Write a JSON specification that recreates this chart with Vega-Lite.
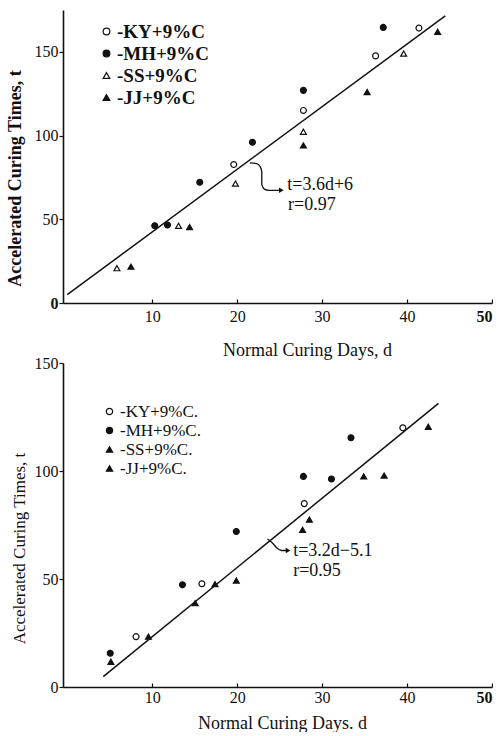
{
  "$schema": "https://vega.github.io/schema/vega-lite/v6.json",
  "background": "white",
  "autosize": {"type": "pad"},
  "padding": {"left": 6, "top": 10, "right": 0, "bottom": 0},
  "spacing": 60,
  "bounds": "flush",
  "config": {
    "font": "Liberation Serif",
    "view": {"stroke": null},
    "axis": {
      "grid": false,
      "domainColor": "#111",
      "domainWidth": 1.6,
      "tickColor": "#111",
      "tickWidth": 1.2,
      "labelColor": "#111",
      "titleColor": "#111",
      "labelFont": "Liberation Serif",
      "titleFont": "Liberation Serif",
      "labelFontSize": 16,
      "titleFontSize": 18,
      "titleFontWeight": "normal"
    },
    "legend": {
      "labelFont": "Liberation Serif",
      "labelColor": "#111",
      "symbolStrokeWidth": 1.2,
      "title": null
    },
    "text": {"font": "Liberation Serif", "color": "#111"}
  },
  "datasets": {
    "top_pts": [
      {"d": 19.6, "t": 82.7, "s": "KY"},
      {"d": 27.8, "t": 115.0, "s": "KY"},
      {"d": 36.3, "t": 147.6, "s": "KY"},
      {"d": 41.4, "t": 164.2, "s": "KY"},
      {"d": 10.3, "t": 46.1, "s": "MH"},
      {"d": 11.8, "t": 46.6, "s": "MH"},
      {"d": 15.6, "t": 72.1, "s": "MH"},
      {"d": 21.8, "t": 96.0, "s": "MH"},
      {"d": 27.8, "t": 127.0, "s": "MH"},
      {"d": 37.2, "t": 164.6, "s": "MH"},
      {"d": 5.85, "t": 20.8, "s": "SS"},
      {"d": 13.1, "t": 46.1, "s": "SS"},
      {"d": 19.8, "t": 71.3, "s": "SS"},
      {"d": 27.8, "t": 102.3, "s": "SS"},
      {"d": 39.6, "t": 149.0, "s": "SS"},
      {"d": 7.5, "t": 21.7, "s": "JJ"},
      {"d": 14.4, "t": 45.4, "s": "JJ"},
      {"d": 27.8, "t": 94.1, "s": "JJ"},
      {"d": 35.3, "t": 126.0, "s": "JJ"},
      {"d": 43.6, "t": 162.0, "s": "JJ"}
    ],
    "top_line": [
      {"d": 0, "t": 5},
      {"d": 44.5, "t": 171.5}
    ],
    "top_arrow": [
      {"i": 1, "d": 21.5, "t": 83.7},
      {"i": 2, "d": 22.3, "t": 83.3},
      {"i": 3, "d": 22.7, "t": 81.5},
      {"i": 4, "d": 22.9, "t": 78.5},
      {"i": 5, "d": 22.9, "t": 70.7},
      {"i": 6, "d": 23.2, "t": 68.0},
      {"i": 7, "d": 23.7, "t": 67.3},
      {"i": 8, "d": 25.0, "t": 67.3}
    ],
    "top_head": [{"d": 25.2, "t": 67.3}],
    "top_text": [
      {"d": 25.9, "t": 70.7, "label": "t=3.6d+6"},
      {"d": 26.0, "t": 58.7, "label": "r=0.97"}
    ],
    "bot_pts": [
      {"d": 8.1, "t": 23.3, "s": "KY"},
      {"d": 15.85, "t": 47.8, "s": "KY"},
      {"d": 27.9, "t": 84.9, "s": "KY"},
      {"d": 39.5, "t": 120.0, "s": "KY"},
      {"d": 5.06, "t": 15.6, "s": "MH"},
      {"d": 13.56, "t": 47.3, "s": "MH"},
      {"d": 19.9, "t": 72.0, "s": "MH"},
      {"d": 27.8, "t": 97.5, "s": "MH"},
      {"d": 31.1, "t": 96.3, "s": "MH"},
      {"d": 33.4, "t": 115.4, "s": "MH"},
      {"d": 9.56, "t": 23.3, "s": "SS"},
      {"d": 17.4, "t": 47.6, "s": "SS"},
      {"d": 28.5, "t": 77.5, "s": "SS"},
      {"d": 34.9, "t": 97.5, "s": "SS"},
      {"d": 5.14, "t": 11.7, "s": "JJ"},
      {"d": 15.06, "t": 38.8, "s": "JJ"},
      {"d": 19.9, "t": 49.3, "s": "JJ"},
      {"d": 27.7, "t": 72.8, "s": "JJ"},
      {"d": 37.3, "t": 97.9, "s": "JJ"},
      {"d": 42.5, "t": 120.5, "s": "JJ"}
    ],
    "bot_line": [
      {"d": 4.24, "t": 4.8},
      {"d": 43.7, "t": 131.3}
    ],
    "bot_arrow": [
      {"i": 1, "d": 23.56, "t": 68.5},
      {"i": 2, "d": 24.15, "t": 66.65},
      {"i": 3, "d": 24.6, "t": 64.7},
      {"i": 4, "d": 25.2, "t": 63.2},
      {"i": 5, "d": 25.8, "t": 63.2}
    ],
    "bot_head": [{"d": 26.0, "t": 63.2}],
    "bot_text": [
      {"d": 26.6, "t": 63.1, "label": "t=3.2d−5.1"},
      {"d": 26.6, "t": 53.8, "label": "r=0.95"}
    ]
  },
  "resolve": {
    "scale": {"shape": "independent", "fill": "independent", "stroke": "independent", "x": "independent", "y": "independent"},
    "legend": {"shape": "independent", "fill": "independent", "stroke": "independent"}
  },
  "vconcat": [
    {
      "width": 429,
      "height": 293,
      "encoding": {
        "x": {
          "field": "d", "type": "quantitative",
          "scale": {"domain": [-0.5, 50], "nice": false, "zero": false},
          "axis": {
            "title": "Normal Curing Days, d",
            "values": [10, 20, 30, 40, 50],
            "tickSize": -4,
            "labelPadding": 9,
            "labelFontWeight": {"condition": {"test": "datum.value == 50", "value": "bold"}, "value": "normal"},
            "titleX": 244,
            "titleY": 47,
            "titleBaseline": "middle",
            "titleAlign": "center"
          }
        },
        "y": {
          "field": "t", "type": "quantitative",
          "scale": {"domain": [0, 175], "nice": false},
          "axis": {
            "title": "Accelerated Curing Times, t",
            "values": [0, 50, 100, 150],
            "tickSize": 4,
            "labelPadding": 1,
            "labelFontWeight": {"condition": {"test": "datum.value == 0", "value": "bold"}, "value": "normal"},
            "titleFontWeight": "bold",
            "titleX": -48,
            "titleY": 168,
            "titleAngle": -90,
            "titleBaseline": "middle",
            "titleAlign": "center"
          }
        }
      },
      "layer": [
        {
          "data": {"name": "top_line"},
          "mark": {"type": "line", "color": "#111", "strokeWidth": 1.5},
          "encoding": {}
        },
        {
          "data": {"name": "top_arrow"},
          "mark": {"type": "line", "color": "#111", "strokeWidth": 1.3, "interpolate": "monotone"},
          "encoding": {"order": {"field": "i", "type": "quantitative"}}
        },
        {
          "data": {"name": "top_head"},
          "mark": {"type": "point", "shape": "triangle-right", "filled": true, "color": "#111", "size": 30, "opacity": 1},
          "encoding": {}
        },
        {
          "data": {"name": "top_text"},
          "mark": {"type": "text", "align": "left", "baseline": "middle", "fontSize": 18, "color": "#111"},
          "encoding": {"text": {"field": "label"}}
        },
        {
          "data": {"name": "top_pts"},
          "mark": {"type": "point", "filled": true, "strokeWidth": 1.2, "size": 35, "opacity": 1},
          "encoding": {
            "shape": {
              "field": "s", "type": "nominal",
              "scale": {"domain": ["KY", "MH", "SS", "JJ"], "range": ["circle", "circle", "triangle-up", "triangle-up"]},
              "legend": {
                "orient": "none", "legendX": 34, "legendY": 12,
                "labelExpr": "'-' + datum.label + '+9%C'",
                "labelFontSize": 19, "labelFontWeight": "bold",
                "symbolSize": 45, "rowPadding": 2, "labelOffset": 1
              }
            },
            "fill": {
              "field": "s", "type": "nominal",
              "scale": {"domain": ["KY", "MH", "SS", "JJ"], "range": ["white", "#111", "white", "#111"]},
              "legend": {
                "orient": "none", "legendX": 34, "legendY": 12,
                "labelExpr": "'-' + datum.label + '+9%C'",
                "labelFontSize": 19, "labelFontWeight": "bold",
                "symbolSize": 45, "rowPadding": 2, "labelOffset": 1
              }
            },
            "stroke": {
              "field": "s", "type": "nominal",
              "scale": {"domain": ["KY", "MH", "SS", "JJ"], "range": ["#111", "#111", "#111", "#111"]},
              "legend": {
                "orient": "none", "legendX": 34, "legendY": 12,
                "labelExpr": "'-' + datum.label + '+9%C'",
                "labelFontSize": 19, "labelFontWeight": "bold",
                "symbolSize": 45, "rowPadding": 2, "labelOffset": 1
              }
            }
          }
        }
      ]
    },
    {
      "width": 429,
      "height": 324,
      "encoding": {
        "x": {
          "field": "d", "type": "quantitative",
          "scale": {"domain": [-0.5, 50], "nice": false, "zero": false},
          "axis": {
            "title": "Normal Curing Days. d",
            "values": [10, 20, 30, 40, 50],
            "tickSize": -4,
            "labelPadding": 6,
            "labelFontWeight": {"condition": {"test": "datum.value == 50", "value": "bold"}, "value": "normal"},
            "titleX": 219,
            "titleY": 36,
            "titleBaseline": "middle",
            "titleAlign": "center"
          }
        },
        "y": {
          "field": "t", "type": "quantitative",
          "scale": {"domain": [0, 150], "nice": false},
          "axis": {
            "title": "Accelerated Curing Times, t",
            "values": [0, 50, 100, 150],
            "tickSize": 4,
            "labelPadding": 1,
            "titleFontSize": 17,
            "titleX": -44,
            "titleY": 185,
            "titleAngle": -90,
            "titleBaseline": "middle",
            "titleAlign": "center"
          }
        }
      },
      "layer": [
        {
          "data": {"name": "bot_line"},
          "mark": {"type": "line", "color": "#111", "strokeWidth": 1.5},
          "encoding": {}
        },
        {
          "data": {"name": "bot_arrow"},
          "mark": {"type": "line", "color": "#111", "strokeWidth": 1.3, "interpolate": "monotone"},
          "encoding": {"order": {"field": "i", "type": "quantitative"}}
        },
        {
          "data": {"name": "bot_head"},
          "mark": {"type": "point", "shape": "triangle-right", "filled": true, "color": "#111", "size": 30, "opacity": 1},
          "encoding": {}
        },
        {
          "data": {"name": "bot_text"},
          "mark": {"type": "text", "align": "left", "baseline": "middle", "fontSize": 18, "color": "#111"},
          "encoding": {"text": {"field": "label"}}
        },
        {
          "data": {"name": "bot_pts"},
          "mark": {"type": "point", "filled": true, "strokeWidth": 1.2, "size": 35, "opacity": 1},
          "encoding": {
            "shape": {
              "field": "s", "type": "nominal",
              "scale": {"domain": ["KY", "MH", "SS", "JJ"], "range": ["circle", "circle", "triangle-up", "triangle-up"]},
              "legend": {
                "orient": "none", "legendX": 38, "legendY": 40,
                "labelExpr": "'-' + datum.label + '+9%C.'",
                "labelFontSize": 17,
                "symbolSize": 40, "rowPadding": 1, "labelOffset": 2
              }
            },
            "fill": {
              "field": "s", "type": "nominal",
              "scale": {"domain": ["KY", "MH", "SS", "JJ"], "range": ["white", "#111", "#111", "#111"]},
              "legend": {
                "orient": "none", "legendX": 38, "legendY": 40,
                "labelExpr": "'-' + datum.label + '+9%C.'",
                "labelFontSize": 17,
                "symbolSize": 40, "rowPadding": 1, "labelOffset": 2
              }
            },
            "stroke": {
              "field": "s", "type": "nominal",
              "scale": {"domain": ["KY", "MH", "SS", "JJ"], "range": ["#111", "#111", "#111", "#111"]},
              "legend": {
                "orient": "none", "legendX": 38, "legendY": 40,
                "labelExpr": "'-' + datum.label + '+9%C.'",
                "labelFontSize": 17,
                "symbolSize": 40, "rowPadding": 1, "labelOffset": 2
              }
            }
          }
        }
      ]
    }
  ]
}
